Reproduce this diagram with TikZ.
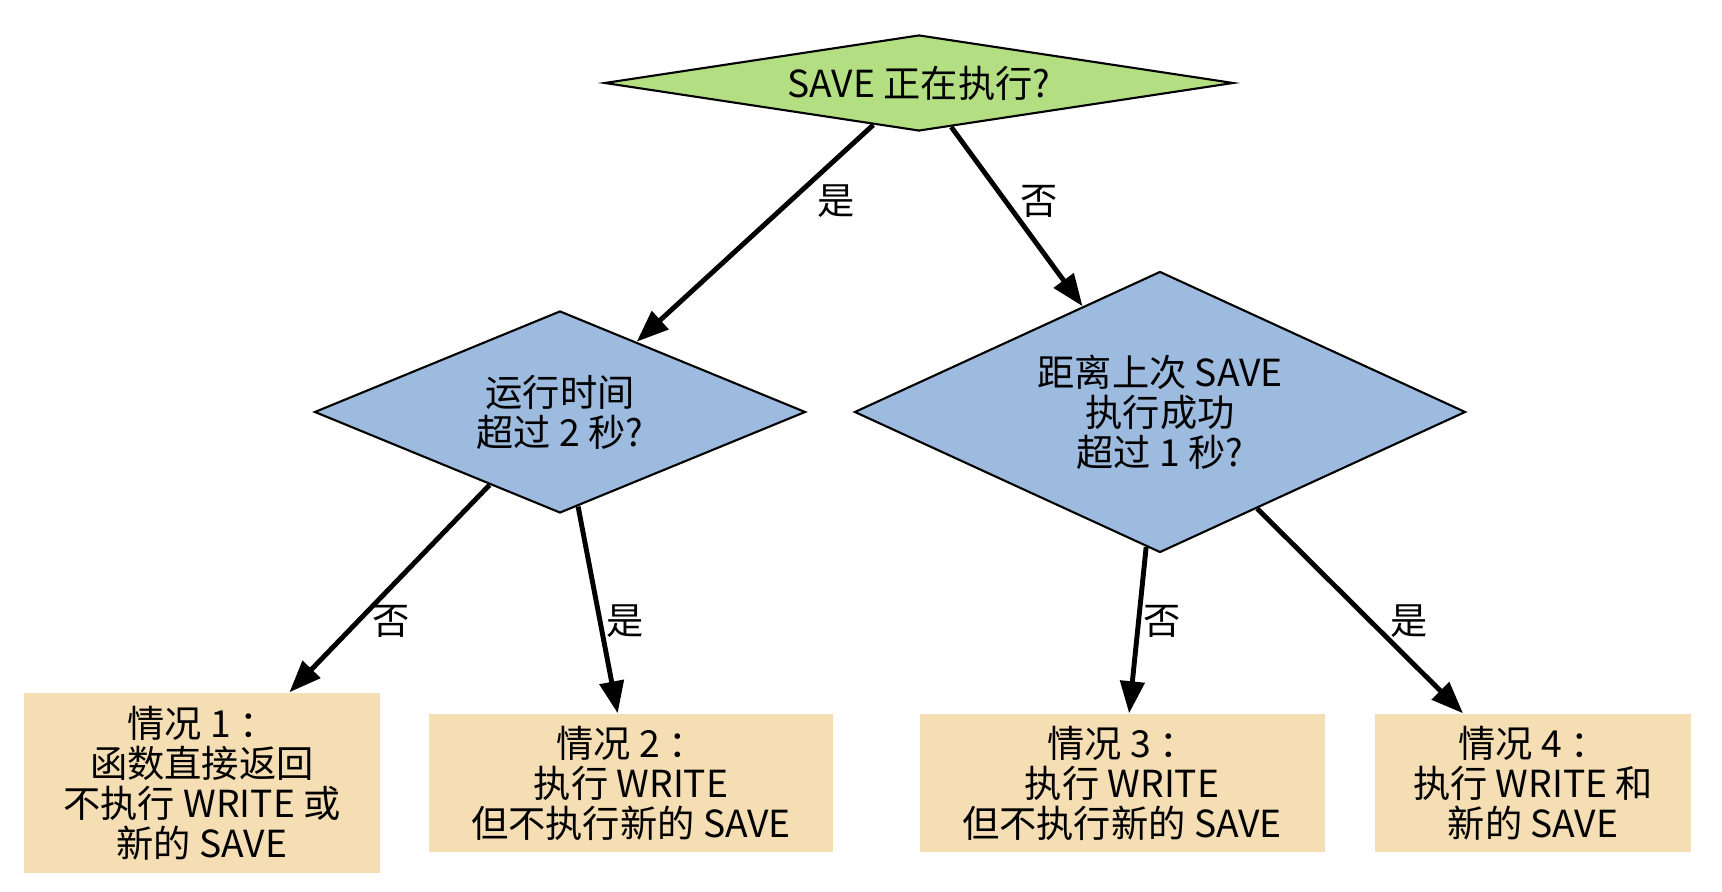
\documentclass[tikz,border=0pt]{standalone}
\usepackage{fontspec}
\setmainfont{Noto Sans CJK SC}
\usepackage{tikz}
\usetikzlibrary{shapes.geometric,arrows.meta,positioning}

\definecolor{askgreen}{HTML}{B3DF82}
\definecolor{askblue}{HTML}{9DBBDF}
\definecolor{casewheat}{HTML}{F5DEB3}

\tikzset{
    ask/.style={diamond, draw=black, line width=0.6pt, inner sep=0pt, align=center,
        font=\fontsize{10.6}{11.4}\selectfont},
    casebox/.style={rectangle, fill=casewheat, inner sep=0pt, align=center,
        minimum height=1.38cm, font=\fontsize{10.6}{11.4}\selectfont},
    flow/.style={line width=1.4pt, -{Triangle[length=0.32cm,width=0.24cm]}},
    answer/.style={font=\fontsize{10.6}{12}\selectfont}
}

\begin{document}
\begin{tikzpicture}
    \useasboundingbox (0,0) rectangle (17.22,8.92);

    % Decisions
    \node[ask, fill=askgreen, aspect=6.5, minimum width=6.29cm, minimum height=0.96cm]
        (running) at (9.19,8.09) {SAVE 正在执行?};
    \node[ask, fill=askblue, aspect=2.4, minimum width=4.91cm, minimum height=2.02cm]
        (longrun) at (5.60,4.80) {运行时间\\超过 2 秒?};
    \node[ask, fill=askblue, aspect=2.2, minimum width=6.11cm, minimum height=2.81cm]
        (lastok) at (11.60,4.80) {距离上次 SAVE\\执行成功\\超过 1 秒?};

    % Cases
    \node[casebox, minimum width=3.56cm, minimum height=1.80cm] (caseA) at (2.02,1.09)
        {情况 1 ：\\函数直接返回\\不执行 WRITE 或\\新的 SAVE};
    \node[casebox, minimum width=4.04cm] (caseB) at (6.31,1.09)
        {情况 2 ：\\执行 WRITE\\但不执行新的 SAVE};
    \node[casebox, minimum width=4.05cm] (caseC) at (11.22,1.09)
        {情况 3 ：\\执行 WRITE\\但不执行新的 SAVE};
    \node[casebox, minimum width=3.16cm] (caseD) at (15.33,1.09)
        {情况 4 ：\\执行 WRITE 和\\新的 SAVE};

    % Arrows
    \draw[flow] (running) -- (longrun);
    \draw[flow] (running) -- (lastok);
    \draw[flow] (longrun) -- (caseA);
    \draw[flow] (longrun) -- (caseB);
    \draw[flow] (lastok) -- (caseC);
    \draw[flow] (lastok) -- (caseD);

    % Labels
    \node[answer] (yesA) at (8.36,6.91) {是};
    \node[answer] (noA) at (10.39,6.91) {否};
    \node[answer] (noB) at (3.91,2.71) {否};
    \node[answer] (yesB) at (6.25,2.71) {是};
    \node[answer] (noC) at (11.62,2.71) {否};
    \node[answer] (yesC) at (14.09,2.71) {是};
\end{tikzpicture}
\end{document}
